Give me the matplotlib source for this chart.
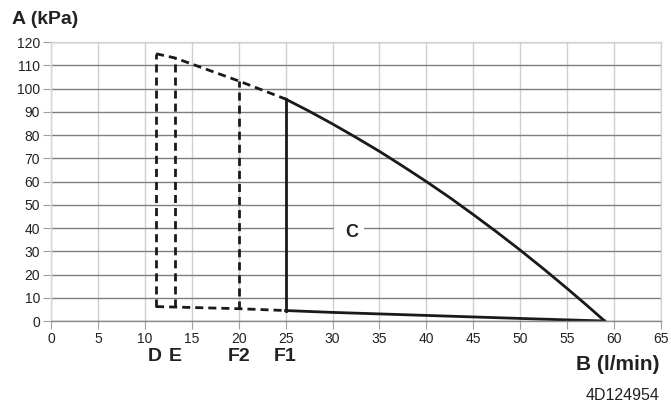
import matplotlib.pyplot as plt
from matplotlib.patches import Rectangle
import numpy as np

plt.rcParams['font.family'] = ['Liberation Sans', 'DejaVu Sans']

# pump curve (solid): max head and min head lines
top_x = [25, 27.5, 30, 32.5, 35, 37.5, 40, 42.5, 45, 47.5, 50, 52.5, 55, 57, 59]
top_y = [95.5, 90.3, 84.8, 79.0, 73.0, 66.6, 60.0, 53.1, 45.8, 38.3, 30.5, 22.4, 14.0, 7.1, 0]
bot_x = [25, 30, 40, 50, 59]
bot_y = [4.5, 3.7, 2.4, 1.1, 0]

# dashed extension for lower flow limits D, E, F2, F1
ext_x = [11.2, 13.2, 20, 25]
ext_top = [115.0, 113.2, 103.3, 95.5]
ext_bot = [6.2, 6.0, 5.3, 4.5]
limit_labels = ['D', 'E', 'F2', 'F1']

fig = plt.figure(figsize=(6.71, 4.05), dpi=100)
ax = fig.add_axes([0.076, 0.2074, 0.909, 0.6886])

ax.set_xlim(0, 65)
ax.set_ylim(0, 120)
ax.set_xticks(np.arange(0, 66, 5))
ax.set_yticks(np.arange(0, 121, 10))
ax.grid(axis='y', color='#7f7f7f', lw=1.0)
ax.grid(axis='x', color='#cfcfcf', lw=1.0)
ax.set_axisbelow(True)
for s in ax.spines.values():
    s.set_color('#d4d4d4')
    s.set_linewidth(1.0)
ax.spines['bottom'].set_color('#8a8a8a')
ax.tick_params(length=6, color='#a0a0a0', labelsize=10, labelcolor='#222222', pad=2)

dash = (0, (2.9, 1.8))
ax.plot(ext_x, ext_top, color='#1a1a1a', lw=2.0, ls=dash)
ax.plot(ext_x, ext_bot, color='#1a1a1a', lw=2.0, ls=dash)
for i in range(3):
    ax.plot([ext_x[i], ext_x[i]], [ext_bot[i], ext_top[i]], color='#1a1a1a', lw=2.0, ls=dash)
ax.plot([ext_x[3], ext_x[3]], [ext_bot[3], ext_top[3]], color='#1a1a1a', lw=2.0)
ax.plot(top_x, top_y, color='#1a1a1a', lw=2.0)
ax.plot(bot_x, bot_y, color='#1a1a1a', lw=2.0)

# white gap in the 40 kPa gridline behind the "C" label
ax.add_patch(Rectangle((30.15, 38.8), 3.25, 2.4, facecolor='white', edgecolor='none', zorder=1.5))
ax.text(32.1, 38, 'C', fontsize=13, fontweight='bold', ha='center', va='center',
        color='#222222', zorder=3)

lab_x = [11.1, 13.2, 20, 25]
for x, t in zip(lab_x, limit_labels):
    ax.text(x, -0.127, t, transform=ax.get_xaxis_transform(), fontsize=14,
            fontweight='bold', ha='center', va='center', color='#222222')

fig.text(0.018, 0.951, 'A (kPa)', fontsize=14, fontweight='bold', ha='left', va='center', color='#222222')
fig.text(0.983, 0.099, 'B (l/min)', fontsize=15, fontweight='bold', ha='right', va='center', color='#222222')
fig.text(0.983, 0.024, '4D124954', fontsize=11.5, ha='right', va='center', color='#222222')

fig.savefig('out.png', dpi=100)
